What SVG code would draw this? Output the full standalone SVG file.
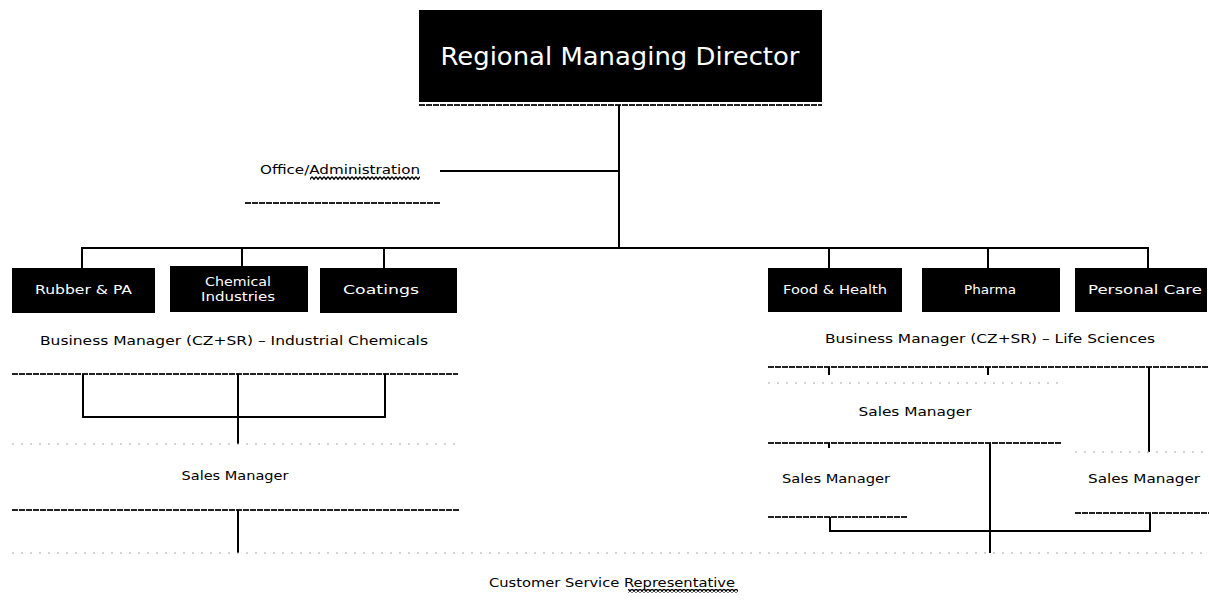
<svg xmlns="http://www.w3.org/2000/svg" width="1209" height="611" viewBox="0 0 1209 611">
<style>
.box{fill:#000}
.wt{fill:#fff;font-family:"DejaVu Sans","Liberation Sans",sans-serif;font-size:12px;text-anchor:middle}
.bt{fill:#000;font-family:"DejaVu Sans","Liberation Sans",sans-serif;font-size:12px;text-anchor:middle}
.big{font-size:25px}
.ln{stroke:#000;stroke-width:2;fill:none}
.tx{stroke:#222;stroke-width:2;fill:none;stroke-dasharray:6 1}
.ft{stroke:#aaa;stroke-width:1;fill:none;stroke-dasharray:2 7}
</style>
<defs>
<pattern id="wave" x="0" y="0" width="4" height="4" patternUnits="userSpaceOnUse">
<polyline points="0,0.7 2,3.3 4,0.7" fill="none" stroke="#000" stroke-width="1.4"/>
</pattern>
</defs>
<rect width="1209" height="611" fill="#fff"/>

<g id="connectors">
<line class="tx" x1="419" y1="105" x2="822" y2="105"/>
<line class="ln" x1="619" y1="105" x2="619" y2="249"/>
<line class="ln" x1="440" y1="171" x2="619" y2="171"/>
<line class="tx" x1="245" y1="203" x2="440" y2="203"/>
<line class="ln" x1="81" y1="248" x2="1149" y2="248"/>
<line class="ln" x1="82" y1="248" x2="82" y2="268"/>
<line class="ln" x1="242" y1="248" x2="242" y2="266"/>
<line class="ln" x1="384" y1="248" x2="384" y2="268"/>
<line class="ln" x1="829" y1="248" x2="829" y2="268"/>
<line class="ln" x1="988" y1="248" x2="988" y2="268"/>
<line class="ln" x1="1148" y1="248" x2="1148" y2="268"/>
<line class="tx" x1="12" y1="374" x2="458" y2="374"/>
<polyline class="ln" points="83,374 83,417 385,417 385,374"/>
<line class="ln" x1="238" y1="374" x2="238" y2="444"/>
<line class="ft" x1="12" y1="444" x2="458" y2="444"/>
<line class="tx" x1="12" y1="510" x2="460" y2="510"/>
<line class="ln" x1="238" y1="510" x2="238" y2="553"/>
<line class="ft" x1="12" y1="553" x2="1209" y2="553"/>
<line class="tx" x1="768" y1="367" x2="1209" y2="367"/>
<line class="ln" x1="829" y1="367" x2="829" y2="375"/>
<line class="ln" x1="988" y1="367" x2="988" y2="375"/>
<line class="ln" x1="1149" y1="367" x2="1149" y2="452"/>
<line class="ft" x1="768" y1="383" x2="1060" y2="383"/>
<line class="tx" x1="768" y1="443" x2="1062" y2="443"/>
<line class="ln" x1="829" y1="443" x2="829" y2="448"/>
<line class="ln" x1="990" y1="443" x2="990" y2="553"/>
<line class="ft" x1="1075" y1="452" x2="1209" y2="452"/>
<line class="tx" x1="768" y1="517" x2="907" y2="517"/>
<line class="tx" x1="1075" y1="513" x2="1209" y2="513"/>
<polyline class="ln" points="830,517 830,531 1150,531 1150,513"/>
</g>

<g id="regional-managing-director">
<rect class="box" x="419" y="10" width="403" height="92"/>
<text class="wt big" x="620" y="65" textLength="359" lengthAdjust="spacingAndGlyphs">Regional Managing Director</text>
</g>

<g id="office-administration">
<text class="bt" x="340" y="174" textLength="160" lengthAdjust="spacingAndGlyphs">Office/Administration</text>
<rect x="310" y="176" width="110" height="4" fill="url(#wave)"/>
</g>

<g id="rubber-pa">
<rect class="box" x="12" y="268" width="143" height="45"/>
<text class="wt" x="83.5" y="294" textLength="97" lengthAdjust="spacingAndGlyphs">Rubber &amp; PA</text>
</g>
<g id="chemical-industries">
<rect class="box" x="170" y="266" width="138" height="46"/>
<text class="wt" x="238" y="286" textLength="66" lengthAdjust="spacingAndGlyphs">Chemical</text>
<text class="wt" x="238" y="301" textLength="74" lengthAdjust="spacingAndGlyphs">Industries</text>
</g>
<g id="coatings">
<rect class="box" x="320" y="268" width="137" height="45"/>
<text class="wt" x="381" y="294" textLength="76" lengthAdjust="spacingAndGlyphs">Coatings</text>
</g>

<g id="bm-industrial-chemicals">
<text class="bt" x="234" y="345" textLength="388" lengthAdjust="spacingAndGlyphs">Business Manager (CZ+SR) – Industrial Chemicals</text>
</g>
<g id="sales-manager-industrial">
<text class="bt" x="235" y="480" textLength="107" lengthAdjust="spacingAndGlyphs">Sales Manager</text>
</g>

<g id="food-health">
<rect class="box" x="768" y="268" width="134" height="44"/>
<text class="wt" x="835" y="294" textLength="104" lengthAdjust="spacingAndGlyphs">Food &amp; Health</text>
</g>
<g id="pharma">
<rect class="box" x="922" y="268" width="138" height="44"/>
<text class="wt" x="990" y="294" textLength="52" lengthAdjust="spacingAndGlyphs">Pharma</text>
</g>
<g id="personal-care">
<rect class="box" x="1075" y="268" width="132" height="44"/>
<text class="wt" x="1145" y="294" textLength="114" lengthAdjust="spacingAndGlyphs">Personal Care</text>
</g>

<g id="bm-life-sciences">
<text class="bt" x="990" y="343" textLength="330" lengthAdjust="spacingAndGlyphs">Business Manager (CZ+SR) – Life Sciences</text>
</g>
<g id="sales-manager-ls-mid">
<text class="bt" x="915" y="416" textLength="113" lengthAdjust="spacingAndGlyphs">Sales Manager</text>
</g>
<g id="sales-manager-ls-left">
<text class="bt" x="836" y="483" textLength="108" lengthAdjust="spacingAndGlyphs">Sales Manager</text>
</g>
<g id="sales-manager-ls-right">
<text class="bt" x="1144" y="483" textLength="112" lengthAdjust="spacingAndGlyphs">Sales Manager</text>
</g>

<g id="customer-service-representative">
<text class="bt" x="612" y="587" textLength="246" lengthAdjust="spacingAndGlyphs">Customer Service Representative</text>
<rect x="628" y="589" width="110" height="4" fill="url(#wave)"/>
</g>
</svg>
